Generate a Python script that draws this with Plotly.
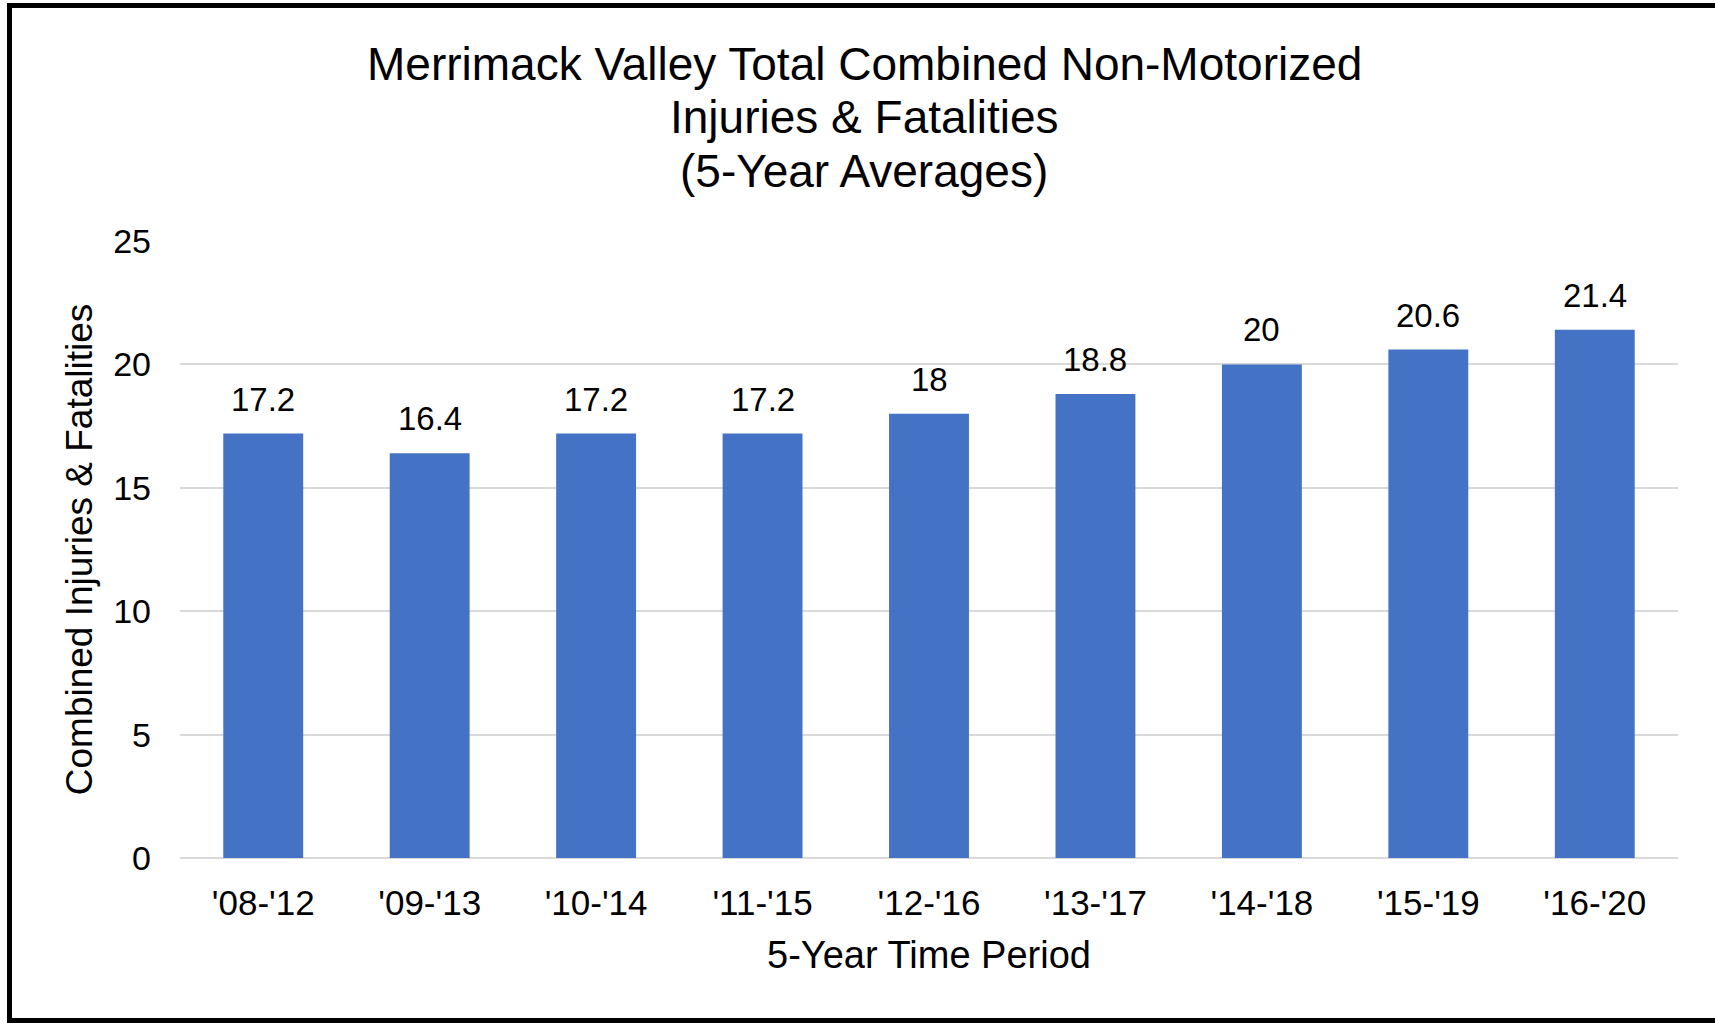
import plotly.graph_objects as go

periods = ["'08-'12", "'09-'13", "'10-'14", "'11-'15", "'12-'16", "'13-'17", "'14-'18", "'15-'19", "'16-'20"]
values = [17.2, 16.4, 17.2, 17.2, 18, 18.8, 20, 20.6, 21.4]
y_ticks = [0, 5, 10, 15, 20, 25]
title_lines = ["Merrimack Valley Total Combined Non-Motorized", "Injuries & Fatalities", "(5-Year Averages)"]

W, H = 1715, 1023
L, R, T, B = 180, 37, 241, 165
pw, ph = W - L - R, H - T - B

FONT = "Liberation Sans, Arial, Helvetica, sans-serif"

fig = go.Figure()
fig.add_trace(go.Bar(x=periods, y=values, marker=dict(color="#4472C4", line=dict(width=0)),
                     showlegend=False, hoverinfo="x+y"))

for p, v in zip(periods, values):
    fig.add_annotation(x=p, y=v, text=f"{v:g}", showarrow=False, yanchor="bottom",
                       yshift=14, font=dict(family=FONT, size=33, color="#000"))

def px_x(px):
    return (px - L) / pw

def px_y(py):
    return (H - B - py) / ph

# title, one line per annotation (tighter line spacing than Plotly's default)
for line, cy in zip(title_lines, [64, 117, 171]):
    fig.add_annotation(xref="paper", yref="paper", x=px_x(864), y=px_y(cy), text=line,
                       showarrow=False, xanchor="center", yanchor="middle",
                       font=dict(family=FONT, size=46, color="#000"))

# outer black frame
fig.add_shape(type="rect", xref="paper", yref="paper",
              x0=px_x(9.5), x1=px_x(1720), y0=px_y(1020.5), y1=px_y(5.5),
              line=dict(color="#000", width=5), fillcolor="rgba(0,0,0,0)", layer="above")

fig.update_layout(
    width=W, height=H,
    margin=dict(l=L, r=R, t=T, b=B, pad=0),
    paper_bgcolor="white", plot_bgcolor="white",
    bargap=0.52,
    font=dict(family=FONT, color="#000"),
    xaxis=dict(title=dict(text="5-Year Time Period", font=dict(size=38, family=FONT, color="#000"), standoff=20),
               tickfont=dict(size=35, family=FONT, color="#000"), showgrid=False, showline=False,
               ticks="", ticklabelstandoff=21),
    yaxis=dict(title=dict(text="Combined Injuries & Fatalities", font=dict(size=37, family=FONT, color="#000"), standoff=9),
               range=[0, 25], tickvals=y_ticks, tickfont=dict(size=34, family=FONT, color="#000"),
               showgrid=True, gridcolor="#D9D9D9", gridwidth=1.5, zeroline=True, zerolinecolor="#D9D9D9",
               zerolinewidth=1.5, showline=False, ticks="", ticklabelstandoff=28),
)

fig.write_html("out.html", config={"displayModeBar": False},
               post_script="document.body.style.margin='0';document.body.style.overflow='hidden';")
